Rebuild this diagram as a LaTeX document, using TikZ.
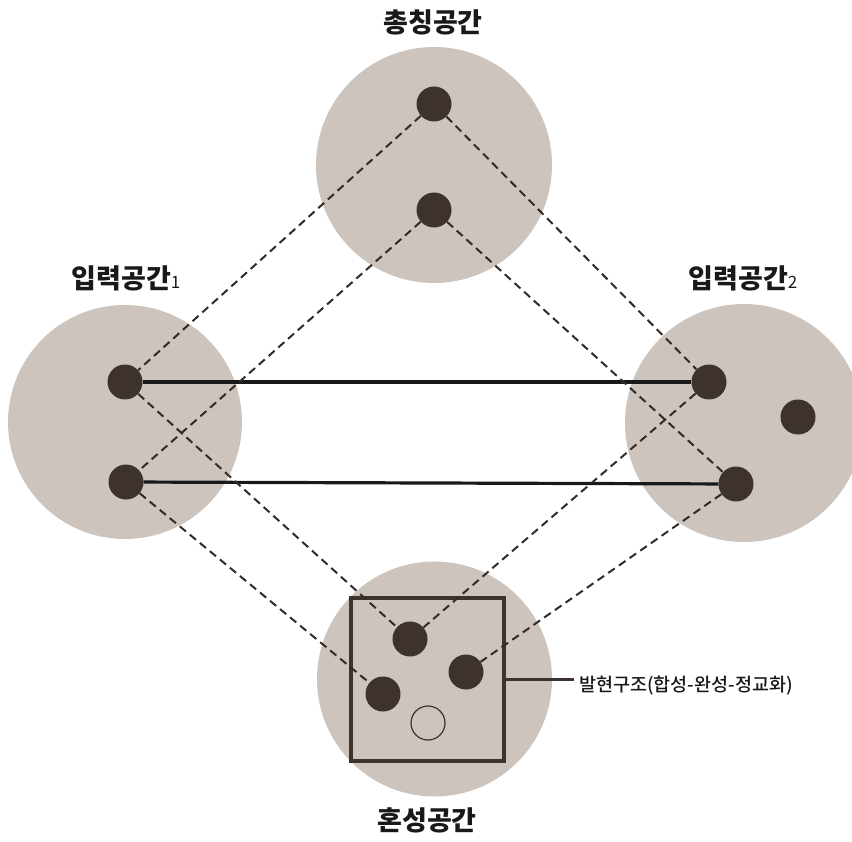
\documentclass[tikz,border=0pt]{standalone}
\usepackage{fontspec}
\newfontfamily\kr{Noto Sans CJK KR}
\newfontfamily\krm{Noto Sans CJK KR Medium}
\definecolor{spacec}{HTML}{CCC4BD}
\definecolor{dotc}{HTML}{3D322D}
\begin{document}
\begin{tikzpicture}[x=1pt,y=-1pt,
  space/.style={circle, fill=spacec, inner sep=0pt, minimum size=#1},
  dotn/.style={circle, fill=dotc, inner sep=0pt, minimum size=35pt},
  hole/.style={circle, draw=dotc, line width=1.2pt, inner sep=0pt, minimum size=34pt},
  link/.style={line width=3.2pt, black!90},
  mapping/.style={dash pattern=on 8pt off 5pt, line width=2pt, dotc!85!black},
  title/.style={font=\kr\bfseries\fontsize{27}{29}\selectfont, text=black!90, inner sep=0pt},
  frame/.style={draw=dotc, line width=3.2pt}]
\useasboundingbox (0,0) rectangle (852,842);
% spaces
\node[space=236pt] (generic) at (434,165) {};
\node[space=234pt] (in1) at (125,422) {};
\node[space=238pt] (in2) at (744,423) {};
\node[space=235pt] (blend) at (434.5,679) {};
% titles
\node[title] (tgeneric) at (433,22) {총칭공간};
\node[title] (tin1) at (126,278) {입력공간{\mdseries\fontsize{17}{17}\selectfont 1}};
\node[title] (tin2) at (743,278) {입력공간{\mdseries\fontsize{17}{17}\selectfont 2}};
\node[title] (tblend) at (427,820) {혼성공간};
% elements
\node[dotn] (t1) at (434,104) {};
\node[dotn] (t2) at (434,210) {};
\node[dotn] (l1) at (125,382) {};
\node[dotn] (l2) at (126,482) {};
\node[dotn] (r1) at (709,382) {};
\node[dotn] (r2) at (736,484) {};
\node[dotn] (r3) at (798,417) {};
\node[dotn] (b1) at (410,639) {};
\node[dotn] (b2) at (466,672) {};
\node[dotn] (b3) at (383,694) {};
\node[hole] (b4) at (428,723) {};
% emergent structure frame
\node[frame, inner sep=0pt, minimum width=153pt, minimum height=163pt] (sq) at (427.5,679.5) {};
\node[anchor=west, inner sep=0pt, font=\krm\fontsize{18.5}{20}\selectfont, text=black!90] (lab) at (579,686) {발현구조(합성-완성-정교화)};
\draw[frame] (sq.east) -- ([xshift=-5pt]lab.west |- sq.east);
% cross-space mappings
\draw[link] (l1) -- (r1);
\draw[link] (l2) -- (r2);
% projections
\draw[mapping] (t1) -- (l1);
\draw[mapping] (t1) -- (r1);
\draw[mapping] (t2) -- (l2);
\draw[mapping] (t2) -- (r2);
\draw[mapping] (l1) -- (b1);
\draw[mapping] (r1) -- (b1);
\draw[mapping] (l2) -- (b3);
\draw[mapping] (r2) -- (b2);
\end{tikzpicture}
\end{document}
